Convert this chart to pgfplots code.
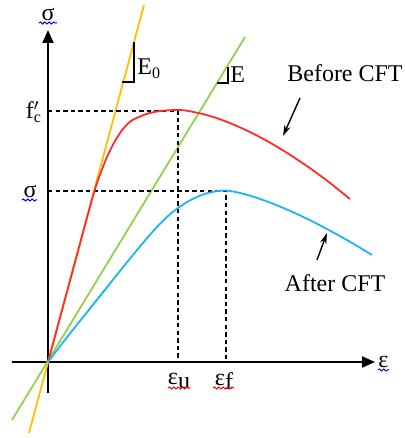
\documentclass[border=0pt]{standalone}
\usepackage{fontspec}
\setmainfont{Liberation Serif}
\usepackage{pgfplots}
\pgfplotsset{compat=1.18}
\usetikzlibrary{arrows.meta,decorations.pathmorphing}

\definecolor{cred}{HTML}{FF2A2A}
\definecolor{corange}{HTML}{FFC000}
\definecolor{cgreen}{HTML}{92D050}
\definecolor{cblue}{HTML}{1CB5F0}

\tikzset{
  lab/.style={font=\fontsize{12}{14}\selectfont, inner sep=0pt},
  wavy/.style={line width=0.5pt, decorate,
    decoration={snake, amplitude=0.5pt, segment length=2.2pt}},
}

\begin{document}
\begin{tikzpicture}
\begin{axis}[
  x=0.5pt, y=0.5pt,
  xmin=-36, xmax=327, ymin=-31, ymax=332,
  axis lines*=middle,
  axis line style={line width=1pt, -{Triangle[length=6.5pt,width=5.5pt]}},
  ticks=none,
  clip=false,
]
  % tangent lines E0 and E
  \addplot[corange, line width=0.9pt] coordinates {(-19,-71) (96,357)};
  \addplot[cgreen, line width=0.9pt] coordinates {(-36,-58) (197,325)};

  % guide lines
  \addplot[black, line width=0.7pt, dash pattern=on 2.2pt off 1.6pt]
    coordinates {(0,251) (130,251) (130,3)};
  \addplot[black, line width=0.7pt, dash pattern=on 2.2pt off 1.6pt]
    coordinates {(0,171) (178,171) (178,3)};

  % before CFT
  \addplot[cred, line width=0.9pt, smooth] coordinates {
    (0,0) (10,37) (20,74) (30,111) (40,148) (45,166) (50,182) (59,205)
    (67,221) (75,233) (83,241) (92,245.5) (100,248.5) (109,250.5)
    (118,251.5) (130,252) (140,251.1) (160,246.6) (180,239.7)
    (200,230.9) (220,220.5) (240,208.5) (260,195.2) (280,180.6) (302,163)
  };
  % after CFT
  \addplot[cblue, line width=0.9pt, smooth] coordinates {
    (0,0) (20,26) (40,51) (60,76) (80,101) (100,125) (110,136) (120,146)
    (130,154) (140,160.5) (150,165.5) (160,169) (170,171) (178,171.5)
    (190,169.5) (205,165.4) (220,160.2) (235,154.2) (250,147.5)
    (265,140.3) (280,132.4) (295,124.2) (310,115.5) (324,107)
  };

  % slope triangles
  \addplot[black, line width=0.6pt] coordinates {(74,280) (86,280) (86,320)};
  \addplot[black, line width=0.6pt] coordinates {(169,279) (180,279) (180,295)};

  % labels
  \node[lab, anchor=west] at (axis cs:89,293) {E\textsubscript{0}};
  \node[lab, anchor=west] at (axis cs:182,287) {E};
  \node[lab] at (axis cs:297,289) {Before CFT};
  \node[lab] at (axis cs:287,79) {After CFT};
  \draw[-{Stealth[length=5.5pt,width=3.2pt]}, line width=0.7pt]
    (axis cs:252,264) -- (axis cs:235,226);
  \draw[-{Stealth[length=5.5pt,width=3.2pt]}, line width=0.7pt]
    (axis cs:269,102) -- (axis cs:279,129);

  \node[lab] at (axis cs:0,348) {σ};
  \draw[wavy, blue] (axis cs:-9,339) -- (axis cs:9,339);
  \node[lab, anchor=east] at (axis cs:-8,250) {f\rlap{\textsubscript{c}}$'$};
  \node[lab, anchor=east] at (axis cs:-11,171) {σ};
  \draw[wavy, blue] (axis cs:-26,162) -- (axis cs:-11,162);
  \node[lab] at (axis cs:131,-19) {ε\raisebox{-0.4ex}{u}};
  \draw[wavy, red] (axis cs:120,-26) -- (axis cs:142,-26);
  \node[lab] at (axis cs:176,-19) {ε\raisebox{-0.4ex}{f}};
  \draw[wavy, red] (axis cs:165,-26) -- (axis cs:186,-26);
  \node[lab, anchor=west] at (axis cs:330,0) {ε};
  \draw[wavy, blue] (axis cs:330,-8) -- (axis cs:341,-8);

  \coordinate (bl) at (axis cs:-48,-76);
  \coordinate (tr) at (axis cs:357,362);
\end{axis}
\pgfresetboundingbox
\useasboundingbox (bl) rectangle (tr);
\end{tikzpicture}
\end{document}
